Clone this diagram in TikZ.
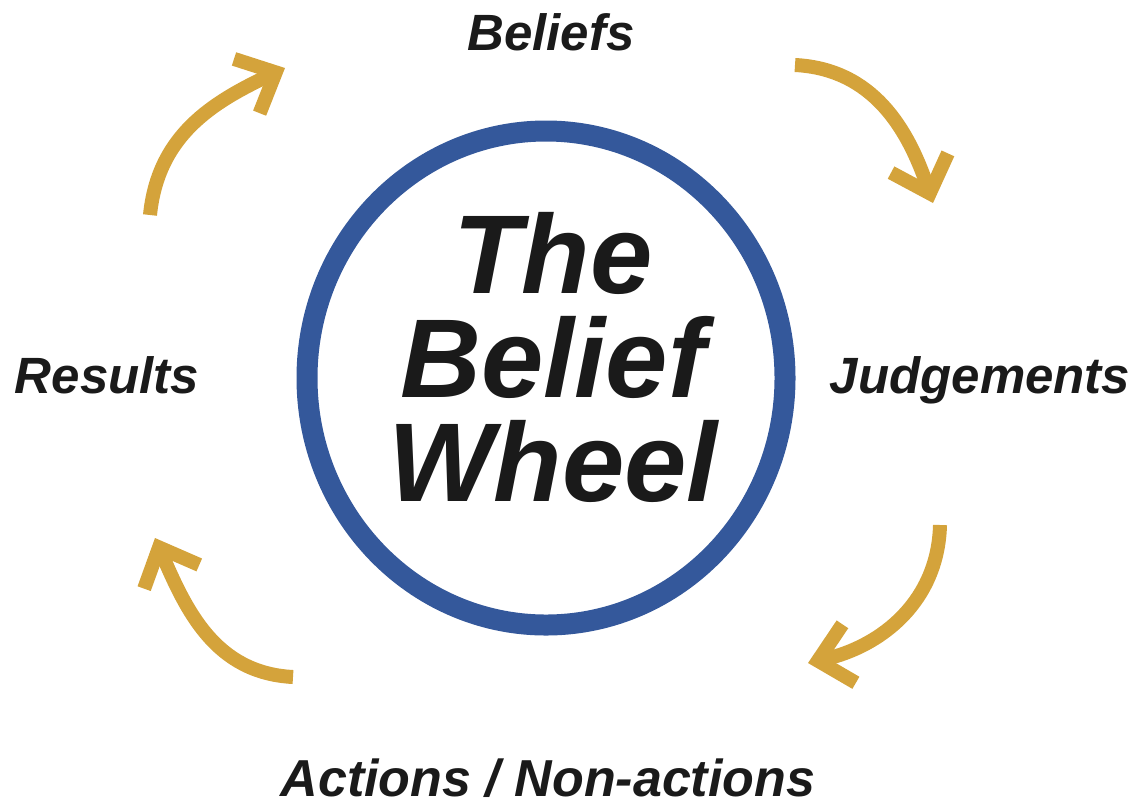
\documentclass[tikz,border=0pt]{standalone}
\usepackage{fontspec}
\setmainfont{Liberation Sans}
\usetikzlibrary{arrows.meta}

\definecolor{wheelblue}{RGB}{52,88,155}
\definecolor{arrowgold}{RGB}{212,163,59}
\definecolor{inkblack}{RGB}{26,26,26}

\tikzset{
  stage/.style={font=\fontsize{51}{60}\selectfont\bfseries\itshape, text=inkblack, anchor=base, inner sep=0pt},
  cyclearrow/.style={draw=arrowgold, line width=14pt,
    -{Straight Barb[length=32pt,width=60pt,line width=14pt,sharp]}},
}

\begin{document}
\begin{tikzpicture}[x=1pt,y=-1pt]
    \useasboundingbox (0,0) rectangle (1139,807);

    % the wheel
    \draw[wheelblue, line width=21pt] (546,378) ellipse [x radius=239, y radius=247];
    \node[font=\fontsize{112}{104}\selectfont\bfseries\itshape, text=inkblack, align=center, inner sep=0pt]
        (wheel) at (553,357) {The\\Belief\\Wheel};

    % the four stages
    \node[stage] (beliefs) at (551,50) {Beliefs};
    \node[stage] (judgements) at (980,393) {Judgements};
    \node[stage, font=\fontsize{52}{60}\selectfont\bfseries\itshape] (actions) at (548,796) {Actions / Non-actions};
    \node[stage] (results) at (107,393) {Results};

    % arrow ends
    \coordinate (rb1) at (150,215);  \coordinate (rb2) at (285,68);
    \coordinate (bj1) at (795,65);   \coordinate (bj2) at (933,203);
    \coordinate (ja1) at (940,525);  \coordinate (ja2) at (808,663);
    \coordinate (ar1) at (293,677);  \coordinate (ar2) at (155,538);

    \draw[cyclearrow] (rb1) .. controls (158,135) and (213,102) .. (rb2);
    \draw[cyclearrow] (bj1) .. controls (873,69) and (908,129) .. (bj2);
    \draw[cyclearrow] (ja1) .. controls (938,601) and (882,646) .. (ja2);
    \draw[cyclearrow] (ar1) .. controls (215,673) and (186,610) .. (ar2);

\end{tikzpicture}
\end{document}
